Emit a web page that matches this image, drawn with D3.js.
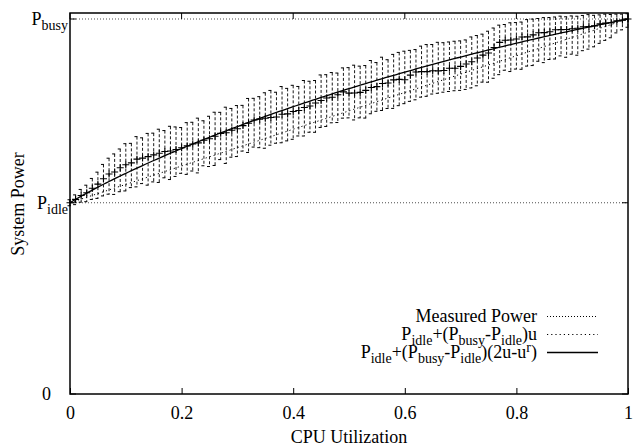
<!DOCTYPE html>
<html>
<head>
<meta charset="utf-8">
<script src="https://cdn.jsdelivr.net/npm/d3@7"></script>
<style>
  html, body { margin: 0; padding: 0; background: #fff; }
  svg { display: block; }
  svg text { font-family: "Liberation Serif", serif; fill: #000; }
</style>
</head>
<body>
<svg id="chart" width="634" height="447"></svg>
<script>
// ---------------- data ----------------
const P_IDLE = 51;
const P_BUSY = 100;
const R_EXP = 1.4;

const utilization = [0.00,0.01,0.02,0.03,0.04,0.05,0.06,0.07,0.08,0.09,
  0.10,0.11,0.12,0.13,0.14,0.15,0.16,0.17,0.18,0.19,
  0.20,0.21,0.22,0.23,0.24,0.25,0.26,0.27,0.28,0.29,
  0.30,0.31,0.32,0.33,0.34,0.35,0.36,0.37,0.38,0.39,
  0.40,0.41,0.42,0.43,0.44,0.45,0.46,0.47,0.48,0.49,
  0.50,0.51,0.52,0.53,0.54,0.55,0.56,0.57,0.58,0.59,
  0.60,0.61,0.62,0.63,0.64,0.65,0.66,0.67,0.68,0.69,
  0.70,0.71,0.72,0.73,0.74,0.75,0.76,0.77,0.78,0.79,
  0.80,0.81,0.82,0.83,0.84,0.85,0.86,0.87,0.88,0.89,
  0.90,0.91,0.92,0.93,0.94,0.95,0.96,0.97,0.98,0.99,1.00];

const measuredPower = [51.0,51.9,52.95,53.68,54.88,55.96,57.42,58.68,59.22,60.34,
  61.15,61.64,62.63,62.91,63.29,63.76,64.21,64.65,64.79,65.22,
  65.65,66.16,66.66,66.96,67.66,68.06,68.74,69.51,69.68,70.35,
  70.72,71.57,72.21,73.05,73.29,73.53,73.75,73.87,74.59,74.70,
  75.32,75.61,76.40,76.80,77.59,78.28,78.95,79.12,79.79,80.56,
  80.23,80.28,80.43,80.98,81.73,81.98,82.81,82.94,83.76,83.89,
  83.82,85.03,85.85,85.96,85.98,86.19,86.18,86.28,86.87,86.87,
  87.36,88.02,88.61,89.59,90.36,90.94,92.40,93.76,94.33,94.39,
  94.65,95.19,95.24,95.78,96.33,96.37,96.60,97.13,97.16,97.19,
  97.42,97.54,97.95,97.97,98.18,98.70,98.90,99.00,99.50,99.70,100.0];

const errUp = [0.8,1.2,1.6,2.0,2.6,3.2,3.8,4.2,4.8,5.0,
  5.6,5.2,6.0,5.4,6.2,5.8,6.4,5.6,6.6,6.0,
  5.4,6.2,5.8,6.6,5.2,6.0,6.4,5.6,6.8,5.8,
  6.2,5.4,6.6,5.8,6.0,6.8,7.2,6.6,7.4,6.8,
  7.0,6.4,7.2,6.6,6.0,6.8,6.2,6.6,5.8,6.4,
  6.8,7.4,7.0,6.6,7.2,6.4,7.0,6.2,6.8,7.2,
  7.6,6.6,6.0,6.8,7.2,7.0,7.6,7.4,7.0,7.2,
  6.8,6.4,6.6,6.0,5.6,5.8,5.2,4.6,4.2,4.6,
  4.4,4.0,4.6,4.2,3.8,4.0,3.8,3.4,3.6,3.4,
  3.4,3.2,3.0,3.2,2.8,2.4,2.4,2.2,1.8,1.6,1.4];

const errDown = [0.8,1.4,1.8,2.4,3.0,3.8,4.6,5.4,6.0,6.4,
  7.0,6.6,7.4,6.8,7.6,7.2,7.8,7.0,7.6,7.2,
  6.8,7.6,7.2,8.0,6.8,7.4,7.8,7.0,8.2,7.2,
  7.4,6.8,7.8,7.2,7.6,8.0,7.4,7.0,7.6,7.2,
  7.4,6.8,7.6,7.0,7.8,7.2,7.6,6.8,7.4,7.0,
  6.6,7.2,6.8,7.4,7.0,6.6,7.2,6.8,7.6,7.0,
  6.4,7.0,7.4,6.8,6.6,6.2,6.0,5.8,6.2,6.0,
  6.4,6.8,7.0,7.4,7.2,7.8,8.2,8.6,8.0,8.4,
  8.0,8.6,7.8,8.2,7.6,8.0,7.4,7.8,7.0,7.4,
  6.8,7.2,6.4,6.0,5.6,5.2,4.6,4.0,3.2,2.6,2.2];

const xTicks = [0, 0.2, 0.4, 0.6, 0.8, 1];
const xTickLabels = ["0", "0.2", "0.4", "0.6", "0.8", "1"];
const yTicks = [0, P_IDLE, P_BUSY];
const yTickLabels = [["0", null], ["P", "idle"], ["P", "busy"]];
const Y_MAX = 101.6;

// ---------------- layout ----------------
const FONT = "Liberation Serif";
const svg = d3.select("#chart");
const L = 70, Rr = 628, T = 13, B = 394;
const x = d3.scaleLinear().domain([0, 1]).range([L, Rr]);
const y = d3.scaleLinear().domain([0, Y_MAX]).range([B, T]);
const FS = 18, SUB = 14;

// grid dotted lines at P_idle and P_busy
svg.append("g").selectAll("line").data([P_IDLE, P_BUSY]).join("line")
  .attr("x1", L).attr("x2", Rr)
  .attr("y1", d => y(d)).attr("y2", d => y(d))
  .attr("stroke", "#000").attr("stroke-width", 0.7)
  .attr("stroke-dasharray", "1,2");

// linear model (dotted)
svg.append("line")
  .attr("x1", x(0)).attr("y1", y(P_IDLE))
  .attr("x2", x(1)).attr("y2", y(P_BUSY))
  .attr("stroke", "#000").attr("stroke-width", 1)
  .attr("stroke-dasharray", "1.2,3");

// error bars
const pts = utilization.map((u, i) => ({u, m: measuredPower[i], up: errUp[i], dn: errDown[i]}));
const eb = svg.append("g").attr("stroke", "#000");
const barTop = d => y(Math.min(d.m + d.up, Y_MAX));
const barBot = d => y(d.m - d.dn);
eb.selectAll("line.bar").data(pts).join("line").attr("class", "bar")
  .attr("x1", d => x(d.u)).attr("x2", d => x(d.u))
  .attr("y1", barTop).attr("y2", barBot)
  .attr("stroke-width", 0.9).attr("stroke-dasharray", "3,2");
eb.selectAll("line.capt").data(pts).join("line").attr("class", "capt")
  .attr("x1", d => x(d.u) - 2.5).attr("x2", d => x(d.u) + 0.5)
  .attr("y1", barTop).attr("y2", barTop)
  .attr("stroke-width", 1);
eb.selectAll("line.capb").data(pts).join("line").attr("class", "capb")
  .attr("x1", d => x(d.u) - 2.5).attr("x2", d => x(d.u) + 0.5)
  .attr("y1", barBot).attr("y2", barBot)
  .attr("stroke-width", 1);

// crosses
svg.append("g").selectAll("path").data(pts).join("path")
  .attr("d", d => {
    const cx = x(d.u), cy = y(d.m), s = 3.5;
    return `M${cx - s},${cy}H${cx + s}M${cx},${cy - s}V${cy + s}`;
  })
  .attr("stroke", "#000").attr("stroke-width", 1.1);

// fitted curve (solid)
const fitU = d3.range(0, 1.0001, 0.005);
svg.append("path")
  .datum(fitU)
  .attr("fill", "none").attr("stroke", "#000").attr("stroke-width", 1.3)
  .attr("d", d3.line().x(u => x(u)).y(u => y(P_IDLE + (P_BUSY - P_IDLE) * (2 * u - Math.pow(u, R_EXP)))));

// frame
svg.append("rect").attr("x", L).attr("y", T).attr("width", Rr - L).attr("height", B - T)
  .attr("fill", "none").attr("stroke", "#000").attr("stroke-width", 1.5);

// x axis
const xAxis = d3.axisBottom(x).tickValues(xTicks).tickSize(-6).tickPadding(10)
  .tickFormat((d, i) => xTickLabels[i]);
const gx = svg.append("g").attr("transform", `translate(0,${B})`).call(xAxis)
  .attr("font-family", FONT).attr("font-size", FS);
gx.select(".domain").remove();
gx.selectAll("line").attr("stroke-width", 1);
gx.selectAll("text").attr("font-size", FS).attr("font-family", FONT).attr("fill", "#000").attr("dy", "0.85em");
// mirrored top ticks
svg.append("g").selectAll("line").data(xTicks).join("line")
  .attr("x1", d => x(d)).attr("x2", d => x(d)).attr("y1", T).attr("y2", T + 6)
  .attr("stroke", "#000");

// y ticks
const yt = svg.append("g");
yt.selectAll("line.l").data(yTicks).join("line").attr("class", "l")
  .attr("x1", L).attr("x2", L + 6).attr("y1", d => y(d)).attr("y2", d => y(d)).attr("stroke", "#000");
yt.selectAll("line.r").data(yTicks).join("line").attr("class", "r")
  .attr("x1", Rr - 6).attr("x2", Rr).attr("y1", d => y(d)).attr("y2", d => y(d)).attr("stroke", "#000");
yTicks.forEach((v, i) => {
  const [main, sub] = yTickLabels[i];
  const t = svg.append("text").attr("y", y(v) + 6).attr("font-size", FS)
    .attr("font-family", FONT).attr("text-anchor", "end");
  if (sub) {
    t.attr("x", 68);
    t.append("tspan").text(main);
    t.append("tspan").attr("font-size", SUB).attr("dy", 5).text(sub);
  } else {
    t.attr("x", 51).text(main);
  }
});

// axis titles
svg.append("text").attr("x", 349).attr("y", 443).attr("text-anchor", "middle")
  .attr("font-family", FONT).attr("font-size", FS).text("CPU Utilization");
svg.append("text").attr("transform", "translate(24,204) rotate(-90)").attr("text-anchor", "middle")
  .attr("font-family", FONT).attr("font-size", FS).text("System Power");

// legend
function richText(sel, parts) {
  let prev = 0;
  parts.forEach(([txt, mode]) => {
    const shift = mode === -1 ? 4.5 : mode === 1 ? -6 : 0;
    sel.append("tspan").attr("dy", shift - prev).attr("font-size", mode === 0 ? FS : SUB).text(txt);
    prev = shift;
  });
}
const legendRows = [
  {parts: [["Measured Power", 0]], dash: "1,2", base: 322},
  {parts: [["P", 0], ["idle", -1], ["+(P", 0], ["busy", -1], ["-P", 0], ["idle", -1], [")u", 0]], dash: "1.2,3", base: 340},
  {parts: [["P", 0], ["idle", -1], ["+(P", 0], ["busy", -1], ["-P", 0], ["idle", -1], [")(2u-u", 0], ["r", 1], [")", 0]], dash: null, base: 358}
];
legendRows.forEach(r => {
  const t = svg.append("text").attr("x", 537).attr("y", r.base).attr("text-anchor", "end")
    .attr("font-family", FONT).attr("font-size", FS);
  richText(t, r.parts);
  svg.append("line").attr("x1", 547).attr("x2", 598).attr("y1", r.base - 5.5).attr("y2", r.base - 5.5)
    .attr("stroke", "#000").attr("stroke-width", r.dash ? 1 : 1.3)
    .attr("stroke-dasharray", r.dash);
});
</script>
</body>
</html>
